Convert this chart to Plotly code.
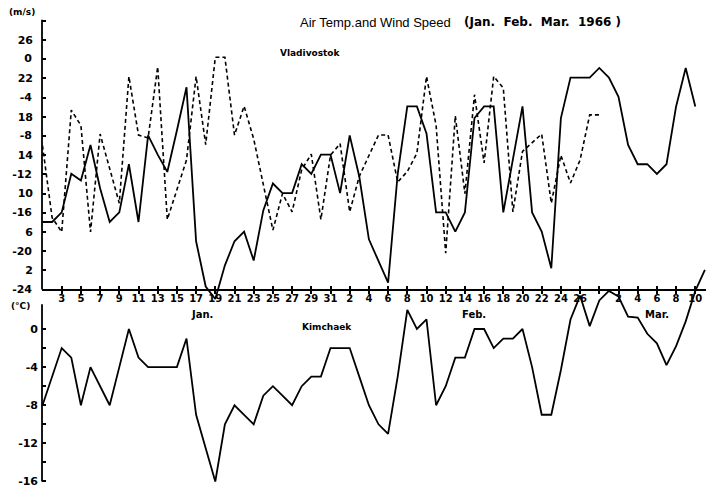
import plotly.graph_objects as go

# ---------------- data (day index: 0 = Jan 1 1966) ----------------
days = list(range(69))            # Jan 1 .. Mar 10
kim_days = list(range(70))        # Jan 1 .. Mar 11 (runs off the right edge)

# Vladivostok air temperature (deg C), solid line
vlad_temp = [-17, -17, -16, -12, -12.7, -9, -13.5, -17, -16, -11,
             -17, -8, -10, -11.8, -7.5, -3, -19, -23.7, -25, -21.5,
             -19, -18, -21, -15.8, -13, -14, -14, -11, -12, -10,
             -10, -14, -8, -12.3, -18.8, -21, -23.3, -12, -5, -5,
             -7.8, -16, -16, -18, -16, -6.2, -5, -5, -16, -10.5,
             -5, -16, -18, -21.8, -6.2, -2, -2, -2, -1, -2,
             -4, -9, -11, -11, -12, -11, -5, -1, -5]

# Vladivostok wind speed (m/s), dashed line, Jan 1 .. Feb 28
wind_days = list(range(59))
vlad_wind = [15, 7.5, 6, 18.7, 17.1, 6, 16.2, 12.5, 9, 22.2,
             16.1, 15.8, 23.2, 7.3, 10.4, 13.5, 22.2, 15.1, 24.2, 24.2,
             16.1, 19.1, 15.7, 11, 6.2, 10, 8.1, 12.5, 14.1, 7.3,
             14, 15.2, 8.1, 11.8, 14, 16.1, 16.1, 11.2, 12.3, 14.2,
             22.2, 17.1, 3.8, 18.1, 10, 20.3, 13.2, 22.2, 21, 8.1,
             14.4, 15.3, 16.2, 9, 14, 11.1, 13.5, 18.2, 18.2]

# Kimchaek air temperature (deg C)
kim_temp = [-8, -5, -2, -3, -8, -4, -6, -8, -4, 0,
            -3, -4, -4, -4, -4, -1, -9, -12.5, -16, -10,
            -8, -9, -10, -7, -6, -7, -8, -6, -5, -5,
            -2, -2, -2, -5, -8, -10, -11, -5, 2, 0,
            1, -8, -6, -3, -3, 0, 0, -2, -1, -1,
            0, -4, -9, -9, -4.3, 1, 3.5, 0.3, 3, 4,
            3.4, 1.3, 1.2, -0.5, -1.5, -3.8, -1.8, 0.8, 4, 6.2]

x_tick_days = list(range(2, 69, 2))
x_tick_text = ["3", "5", "7", "9", "11", "13", "15", "17", "19", "21",
               "23", "25", "27", "29", "31", "2", "4", "6", "8", "10",
               "12", "14", "16", "18", "20", "22", "24", "26", "", "2",
               "4", "6", "8", "10"]

wind_ticks = list(range(2, 30, 2))
wind_tick_text = ["2", "", "6", "", "10", "", "14", "", "18", "", "22", "", "26", ""]
vtemp_ticks = [0, -4, -8, -12, -16, -20, -24]
vtemp_tick_text = ["0", "-4", "-8", "-12", "-16", "-20", "-24"]
ktemp_ticks = [0, -2, -4, -6, -8, -10, -12, -14, -16]
ktemp_tick_text = ["0", "", "-4", "", "-8", "", "-12", "", "-16"]

# ---------------- geometry ----------------
W, H = 706, 487
ML, MR, MT, MB = 42, 0, 10, 2
PW, PH = W - ML - MR, H - MT - MB
TOP, BOT = MT, H - MB


def yrange(val0, pix0, scale):
    hi = val0 + (pix0 - TOP) / scale
    lo = val0 - (BOT - pix0) / scale
    return [lo, hi]


DAYPX = 9.6
x_lo = -(42.5 - ML) / DAYPX
x_range = [x_lo, x_lo + PW / DAYPX]

wind_range = yrange(0, 289.6, 9.6)
vtemp_range = yrange(0, 58.3, 9.63)
ktemp_range = yrange(0, 329, 9.53)
axis_pos = (BOT - 289.6) / PH


def px(x):
    return (x - ML) / PW


def py(y):
    return (BOT - y) / PH


tickfont = dict(family="DejaVu Sans", size=11, color="black", weight="bold")
xtickfont = dict(family="DejaVu Sans", size=10, color="black", weight="bold")

fig = go.Figure()
fig.add_trace(go.Scatter(x=days, y=vlad_temp, yaxis="y2", mode="lines",
                         line=dict(color="black", width=1.8), showlegend=False))
fig.add_trace(go.Scatter(x=wind_days, y=vlad_wind, yaxis="y", mode="lines",
                         line=dict(color="black", width=1.6, dash="4px,3px"), showlegend=False))
fig.add_trace(go.Scatter(x=kim_days, y=kim_temp, yaxis="y3", mode="lines",
                         line=dict(color="black", width=1.8), showlegend=False))
# empty trace on xaxis2 so its inside ticks are drawn
fig.add_trace(go.Scatter(x=[x_range[0]], y=[None], xaxis="x2", yaxis="y",
                         mode="lines", showlegend=False, hoverinfo="skip"))

fig.update_layout(
    width=W, height=H,
    margin=dict(l=ML, r=MR, t=MT, b=MB),
    paper_bgcolor="white", plot_bgcolor="white",
    xaxis=dict(range=x_range, anchor="free", position=axis_pos,
               tickvals=x_tick_days, ticktext=x_tick_text, ticks="outside",
               ticklen=4, tickwidth=1.5, tickcolor="black", showline=True,
               linecolor="black", linewidth=1.6, showgrid=False, zeroline=False,
               tickfont=xtickfont, tickangle=0, ticklabelstandoff=-4),
    xaxis2=dict(range=x_range, anchor="free", position=axis_pos, overlaying="x",
                tickvals=x_tick_days, ticks="inside", ticklen=4, tickwidth=1.5,
                tickcolor="black", showticklabels=False, showline=False,
                showgrid=False, zeroline=False),
    yaxis=dict(range=wind_range, anchor="x", side="left",
               tickvals=wind_ticks, ticktext=wind_tick_text, ticks="inside",
               ticklen=4, tickwidth=1.5, tickcolor="black", showline=False,
               showgrid=False, zeroline=False, tickfont=tickfont, ticklabelstandoff=8,
               ticklabeloverflow="allow"),
    yaxis2=dict(range=vtemp_range, anchor="x", side="left", overlaying="y",
                tickvals=vtemp_ticks, ticktext=vtemp_tick_text, ticks="",
                showline=False, showgrid=False, zeroline=False, tickfont=tickfont,
                ticklabelstandoff=9, ticklabeloverflow="allow"),
    yaxis3=dict(range=ktemp_range, anchor="x", side="left", overlaying="y",
                tickvals=ktemp_ticks, ticktext=ktemp_tick_text, ticks="inside",
                ticklen=4, tickwidth=1.5, tickcolor="black", showline=False,
                showgrid=False, zeroline=False, tickfont=tickfont, ticklabelstandoff=3,
                ticklabeloverflow="allow"),
    shapes=[
        dict(type="line", xref="paper", yref="y", x0=0, x1=0, y0=0, y1=28.1,
             line=dict(color="black", width=1.8)),
        dict(type="line", xref="paper", yref="y3", x0=0, x1=0, y0=2.6, y1=-16,
             line=dict(color="black", width=1.8)),
    ],
)

ann_font = dict(family="DejaVu Sans", size=9, color="black", weight="bold")
annotations = [
    dict(text="(m/s)", x=px(22), y=py(12), xanchor="center"),
    dict(text="(°C)", x=px(20), y=py(306), xanchor="center"),
    dict(text="Vladivostok", x=px(310), y=py(53), xanchor="center"),
    dict(text="Kimchaek", x=px(327), y=py(327), xanchor="center"),
    dict(text="Jan.", x=px(202), y=py(314), xanchor="center", size=10),
    dict(text="Feb.", x=px(474), y=py(314), xanchor="center", size=10),
    dict(text="Mar.", x=px(657), y=py(314), xanchor="center", size=10),
]
for a in annotations:
    f = dict(ann_font)
    if "size" in a:
        f["size"] = a.pop("size")
    fig.add_annotation(text=a["text"], x=a["x"], y=a["y"], xref="paper", yref="paper",
                       xanchor=a["xanchor"], yanchor="middle", showarrow=False, font=f)

fig.add_annotation(text="Air Temp.and Wind Speed", x=px(298), y=py(22), xref="paper",
                   yref="paper", xanchor="left", yanchor="middle", showarrow=False,
                   font=dict(family="Liberation Sans", size=13, color="black"))
fig.add_annotation(text="(Jan.  Feb.  Mar.  1966 )", x=px(462), y=py(22), xref="paper",
                   yref="paper", xanchor="left", yanchor="middle", showarrow=False,
                   font=dict(family="DejaVu Sans", size=12, color="black", weight="bold"))

fig.write_html("out.html", config={"displayModeBar": False},
               post_script="document.body.style.margin='0px';")
